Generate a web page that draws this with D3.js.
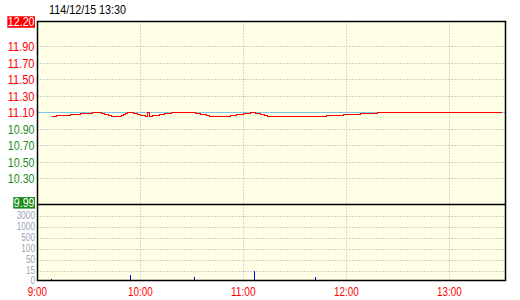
<!DOCTYPE html>
<html><head><meta charset="utf-8">
<script src="https://cdn.jsdelivr.net/npm/d3@7"></script>
<style>
body{margin:0;background:#fff}
text{font-family:"Liberation Sans",Arial,sans-serif}
</style>
</head><body><svg id="c" width="520" height="300"></svg>
<script>
// ---- data ----
const title = "114/12/15 13:30";
const refPrice = 11.10;
const priceMax = 12.20, priceMin = 9.99;
const priceTicks = [11.90, 11.70, 11.50, 11.30, 11.10, 10.90, 10.70, 10.50, 10.30];
const timeTicks = ["9:00", "10:00", "11:00", "12:00", "13:00"];
const sessionStart = "9:00", sessionEnd = "13:30";
const volTicks = [0, 15, 50, 100, 500, 1000, 3000];
const priceTimes = ["9:08","9:11","9:19","9:25","9:32","9:37","9:39","9:41","9:43","9:49","9:50","9:51","9:52","9:56","9:58","10:00","10:03","10:04","10:05","10:07","10:11","10:14","10:18","10:32","10:35","10:38","10:40","10:52","10:56","11:00","11:04","11:07","11:10","11:12","11:14","11:48","11:58","12:08","12:18","13:30"];
const prices = [11.05,11.06,11.08,11.09,11.10,11.09,11.08,11.06,11.05,11.06,11.08,11.09,11.10,11.09,11.08,11.06,11.05,11.10,11.05,11.06,11.08,11.09,11.10,11.09,11.08,11.06,11.05,11.06,11.08,11.09,11.10,11.09,11.08,11.06,11.05,11.06,11.08,11.09,11.10,11.10];
const volTimes = ["9:08","9:54","10:31","10:50","11:06","11:42","12:23"];
const volumes = [3, 8, 5, 1, 15, 5, 1];

// ---- layout ----
const svg = d3.select("#c");
const L = 37.5, R = 505.5, T = 21.5, D = 204.5, B = 280.5;
const volStep = 11;
const toMin = s => { const [h, m] = s.split(":").map(Number); return h * 60 + m; };
const narrow = (s, size) => Array.from(String(s)).reduce((a, c) => a + (/[0-9]/.test(c) ? 0.456 : 0.228) * size, 0);

const x = d3.scaleLinear().domain([toMin(sessionStart), toMin(sessionEnd)]).range([37.3, 37.3 + 463.5]);
const y = d3.scaleLinear().domain([priceMin, priceMax]).range([203.6, 21.25]);
const vy = d3.scaleLinear().domain(volTicks)
  .range(volTicks.map((v, i) => i === 0 ? B : D + volStep * (volTicks.length - i)));
const rowY = v => Math.round(y(v));
const colX = t => Math.round(x(t));

svg.append("rect").attr("x", L).attr("y", T).attr("width", R - L).attr("height", B - T).attr("fill", "#ffffe6");

// horizontal grid (price), skipping the reference level
svg.append("g").selectAll("line").data(priceTicks.filter(d => Math.abs(d - refPrice) > 1e-6)).join("line")
  .attr("x1", L).attr("x2", R).attr("y1", d => rowY(d) + 0.5).attr("y2", d => rowY(d) + 0.5)
  .attr("stroke", "#a0a0a0").attr("stroke-dasharray", "1,2");
// horizontal grid (volume)
svg.append("g").selectAll("line").data(volTicks.slice(1)).join("line")
  .attr("x1", L).attr("x2", R)
  .attr("y1", d => Math.round(vy(d)) + 0.5).attr("y2", d => Math.round(vy(d)) + 0.5)
  .attr("stroke", "#a0a0a0").attr("stroke-dasharray", "1,2");
// vertical grid
svg.append("g").selectAll("line").data(timeTicks.slice(1)).join("line")
  .attr("x1", d => colX(toMin(d)) + 0.5).attr("x2", d => colX(toMin(d)) + 0.5)
  .attr("y1", T).attr("y2", B)
  .attr("stroke", "#9cb8cc").attr("stroke-dasharray", "1,2");

// reference line (light blue)
svg.append("rect").attr("x", L).attr("width", R - L).attr("y", rowY(refPrice)).attr("height", 1)
  .attr("fill", "#80c4ea").attr("shape-rendering", "crispEdges");

// volume bars
svg.append("g").selectAll("rect").data(volTimes.map((t, i) => [toMin(t), volumes[i]])).join("rect")
  .attr("x", d => colX(d[0])).attr("width", 1)
  .attr("y", d => Math.round(vy(d[1]))).attr("height", d => Math.round(B) - Math.round(vy(d[1])))
  .attr("fill", "#0000ff").attr("shape-rendering", "crispEdges");

// frame
const frame = svg.append("g").attr("stroke", "#000").attr("stroke-width", 1.5).attr("fill", "none");
frame.append("rect").attr("x", L).attr("y", T).attr("width", R - L).attr("height", B - T);
frame.append("line").attr("x1", L).attr("x2", R).attr("y1", D).attr("y2", D);

// title
svg.append("text").attr("x", 49).attr("y", 14).attr("fill", "#000")
  .attr("font-size", 13).attr("textLength", narrow(title, 13)).attr("lengthAdjust", "spacingAndGlyphs").text(title);

// price labels
svg.append("g").selectAll("text").data(priceTicks).join("text")
  .attr("x", 34.5).attr("y", d => rowY(d) + 0.5).attr("dy", "0.36em").attr("text-anchor", "end")
  .attr("fill", d => d >= refPrice ? "#ff0000" : "#1a8c1a")
  .attr("font-size", 13).attr("textLength", d => narrow(d.toFixed(2), 13)).attr("lengthAdjust", "spacingAndGlyphs")
  .text(d => d.toFixed(2));

// boxed max/min labels
function boxLabel(val, yc, fill) {
  const g = svg.append("g");
  const s = val.toFixed(2), w = narrow(s, 13);
  g.append("rect").attr("x", 34.5 - w - 0.5).attr("y", yc - 5.5).attr("width", w + 1).attr("height", 11.5).attr("fill", fill);
  g.append("text").attr("x", 34.5).attr("y", yc).attr("dy", "0.36em").attr("text-anchor", "end")
    .attr("fill", "#fff").attr("font-size", 13).attr("textLength", w).attr("lengthAdjust", "spacingAndGlyphs").text(s);
}
boxLabel(priceMax, y(priceMax) + 0.5, "#ff0000");
boxLabel(priceMin, y(priceMin) - 1, "#1a8c1a");

// volume labels
svg.append("g").selectAll("text").data(volTicks).join("text")
  .attr("x", 35).attr("y", d => vy(d)).attr("dy", "0.36em").attr("text-anchor", "end")
  .attr("fill", "#9aa6b4")
  .attr("font-size", 10).attr("textLength", d => narrow(d, 10)).attr("lengthAdjust", "spacingAndGlyphs")
  .text(d => d);

// time labels
svg.append("g").selectAll("text").data(timeTicks).join("text")
  .attr("x", d => x(toMin(d))).attr("y", 296).attr("text-anchor", "middle")
  .attr("fill", "#ff0000")
  .attr("font-size", 12).attr("textLength", d => narrow(d, 12)).attr("lengthAdjust", "spacingAndGlyphs")
  .text(d => d);

// price line (red), drawn last
const pts = priceTimes.map((t, i) => [toMin(t), prices[i]]);
svg.append("path").datum(pts)
  .attr("d", d3.line().x(d => colX(d[0]) + 0.5).y(d => rowY(d[1]) + 0.5).curve(d3.curveStepAfter))
  .attr("fill", "none").attr("stroke", "#ff0000").attr("stroke-width", 1).attr("shape-rendering", "crispEdges");
</script></body></html>
